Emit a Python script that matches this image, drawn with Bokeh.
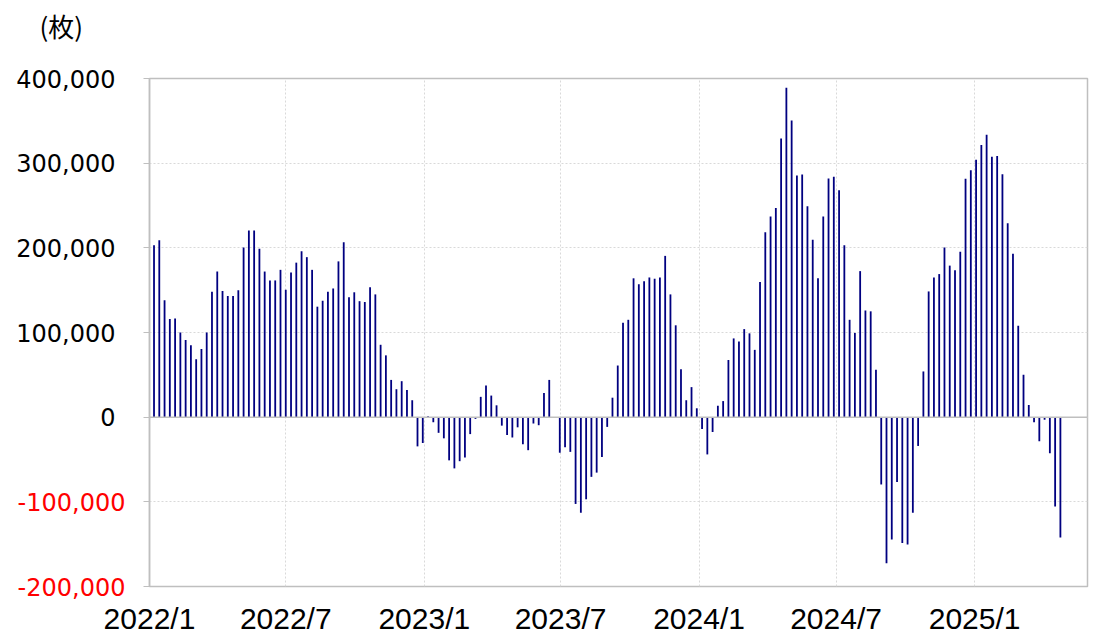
import pandas as pd
from bokeh.plotting import figure
from bokeh.layouts import row, column
from bokeh.models import (ColumnDataSource, Range1d, FixedTicker, Span,
                          CustomJSTickFormatter)
from bokeh.core.properties import value
from bokeh.embed import file_html
from bokeh.resources import INLINE

# ---- data (weekly, Fridays from 2022-01-07) ----
first_week = "2022-01-07"
values = [
    203000, 209000, 138000, 116000, 116500, 100000, 91000, 85000, 68500, 80500,
    100000, 148000, 172000, 149000, 143000, 143000, 150000, 200500, 220500, 220500,
    199000, 172000, 161500, 161500, 174000, 150500, 171000, 182500, 196000, 189000,
    174000, 130500, 137500, 148000, 152000, 184000, 206500, 141500, 147500, 137000,
    136000, 153500, 145000, 85500, 73000, 44000, 33000, 42500, 32000, 20000,
    -34500, -30500, 1000, -6000, -18500, -25000, -51000, -60500, -52000, -47500,
    -20000, -2000, 24000, 37500, 25500, 14000, -10000, -21000, -24000, -12000,
    -32000, -39000, -7500, -9500, 28500, 44000, -1000, -42000, -35500, -41000,
    -102500, -113000, -97000, -70500, -65500, -47000, -11500, 23000, 61000, 111500,
    115000, 164000, 157000, 160500, 165000, 163500, 165000, 190500, 145000, 108500,
    56500, 20000, 35500, 10500, -14000, -44000, -17500, 13500, 19000, 67500,
    93000, 89500, 104000, 99000, 79500, 159500, 218500, 237000, 247000, 329000,
    389000, 350500, 285500, 286500, 249000, 209500, 164000, 237000, 282000, 284000,
    268000, 203000, 115000, 99500, 172500, 126000, 125000, 56000, -79500, -172500,
    -144500, -76500, -148500, -150500, -113000, -34000, 54000, 148500, 165000, 169000,
    200500, 179000, 173500, 195500, 281500, 291500, 304000, 321500, 333500, 307500,
    308500, 287000, 229000, 193000, 108000, 50000, 14500, -6000, -28500, -3000,
    -42500, -105500, -142000,
]
dates = pd.date_range(start=first_week, periods=len(values), freq="W-FRI")

x_tick_dates = ["2022-01-01", "2022-07-01", "2023-01-01", "2023-07-01",
                "2024-01-01", "2024-07-01", "2025-01-01"]
x_tick_labels = ["2022/1", "2022/7", "2023/1", "2023/7", "2024/1", "2024/7", "2025/1"]
y_ticks = [-200000, -100000, 0, 100000, 200000, 300000, 400000]
y_tick_labels = ["-200,000", "-100,000", "0", "100,000", "200,000", "300,000", "400,000"]
unit_label = "(枚)"

x_start = pd.Timestamp("2022-01-01")
x_end = pd.Timestamp("2025-05-31")
y_min, y_max = -200000, 400000

# ---- layout constants (pixels) ----
TOTAL_W = 1090
LEFT_W = 141          # label panel width
FRAME_L, FRAME_R = 149, 1087
FRAME_T, FRAME_B = 78, 586
MAIN_H = 600
STRIP_H = 38
X_LABEL_CY = 618      # page y of x tick label centres

GRAY = "#bfbfbf"
GRID = "#d9d9d9"
FONT_Y = "DejaVu Sans"

yr = Range1d(y_min, y_max)

# ---- left label panel ----
upp = (y_max - y_min) / (FRAME_B - FRAME_T)
lab = figure(width=LEFT_W, height=MAIN_H, output_backend="svg", toolbar_location=None,
             x_range=Range1d(0, LEFT_W),
             y_range=Range1d(y_min - (MAIN_H - FRAME_B) * upp, y_max + FRAME_T * upp),
             x_axis_location=None, y_axis_location=None,
             min_border_left=0, min_border_right=0, min_border_top=0, min_border_bottom=0)
lab.frame_align = False
lab.outline_line_color = None
lab.grid.visible = False
lab.background_fill_color = "white"
lab.border_fill_color = "white"
lab_src = ColumnDataSource(dict(
    x=[LEFT_W - 16 if t < 0 else LEFT_W - 26 for t in y_ticks],
    y=y_ticks,
    text=y_tick_labels,
    color=["#ff0000" if t < 0 else "black" for t in y_ticks],
))
lab.text(x="x", y="y", text="text", source=lab_src, text_color="color",
         text_align="right", text_baseline="middle",
         text_font=value(FONT_Y), text_font_size="24px")
lab.text(x=[39], y=[y_max + (FRAME_T - 25) * upp], text=[unit_label],
         text_align="left", text_baseline="middle", text_color="black",
         text_font=value("Noto Sans CJK JP"), text_font_size="26px")

# ---- main chart ----
p = figure(width=TOTAL_W - LEFT_W, height=MAIN_H, x_axis_type="datetime",
           output_backend="svg", toolbar_location=None,
           x_range=Range1d(x_start, x_end), y_range=yr,
           min_border_left=FRAME_L - LEFT_W, min_border_right=TOTAL_W - FRAME_R,
           min_border_top=FRAME_T, min_border_bottom=MAIN_H - FRAME_B)
p.frame_align = False
p.background_fill_color = "white"
p.border_fill_color = "white"
p.outline_line_color = GRAY
p.outline_line_width = 1.5

src = ColumnDataSource(dict(x=dates, top=values))
p.vbar(x="x", top="top", bottom=0, width=2.4 * 86400000, source=src,
       fill_color="#000080", line_color=None)

p.add_layout(Span(location=0, dimension="width", line_color=GRAY, line_width=1.5))

tick_ms = [pd.Timestamp(d).value // 10**6 for d in x_tick_dates]
p.xaxis.ticker = FixedTicker(ticks=tick_ms)
p.xaxis.formatter = CustomJSTickFormatter(code='return "";')
p.xaxis.axis_line_color = None
p.xaxis.major_tick_line_color = None
p.xaxis.minor_tick_line_color = None
p.xaxis.major_tick_out = 0
p.xaxis.major_label_standoff = 0
p.xgrid.ticker = FixedTicker(ticks=tick_ms)

p.yaxis.ticker = FixedTicker(ticks=y_ticks)
p.yaxis.formatter = CustomJSTickFormatter(code='return "";')
p.yaxis.axis_line_color = GRAY
p.yaxis.axis_line_width = 1.5
p.yaxis.major_tick_line_color = GRAY
p.yaxis.major_tick_out = 6
p.yaxis.major_tick_in = 0
p.yaxis.minor_tick_line_color = None
p.yaxis.major_label_standoff = 0

p.xgrid.grid_line_color = GRID
p.xgrid.grid_line_dash = "2 2"
p.ygrid.grid_line_color = GRID
p.ygrid.grid_line_dash = "2 2"

# ---- x tick label strip ----
span_ms = (x_end - x_start).total_seconds() * 1000
mspp = span_ms / (FRAME_R - FRAME_L)
strip = figure(width=TOTAL_W, height=STRIP_H, output_backend="svg", toolbar_location=None,
               x_axis_type="datetime",
               x_range=Range1d(x_start - pd.Timedelta(milliseconds=FRAME_L * mspp),
                               x_end + pd.Timedelta(milliseconds=(TOTAL_W - FRAME_R) * mspp)),
               y_range=Range1d(0, STRIP_H),
               x_axis_location=None, y_axis_location=None,
               min_border_left=0, min_border_right=0, min_border_top=0, min_border_bottom=0)
strip.frame_align = False
strip.outline_line_color = None
strip.grid.visible = False
strip.background_fill_color = "white"
strip.border_fill_color = "white"
strip.text(x=pd.to_datetime(x_tick_dates),
           y=[MAIN_H + STRIP_H - X_LABEL_CY] * len(x_tick_dates),
           text=x_tick_labels, text_align="center", text_baseline="middle",
           text_color="black", text_font=value("Liberation Sans"), text_font_size="30px")

layout = column(row(lab, p, spacing=0), strip, spacing=0)
open("out.html", "w").write(file_html(layout, INLINE))
